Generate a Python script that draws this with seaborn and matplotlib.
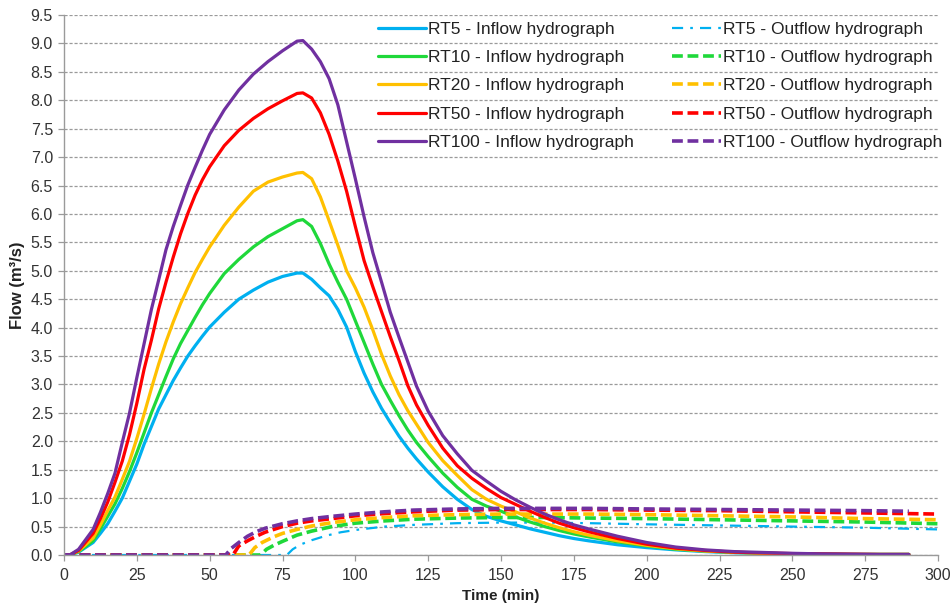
import matplotlib
matplotlib.use("Agg")
import matplotlib.pyplot as plt
import matplotlib.ticker as mticker
import seaborn as sns

# ---------------- data ----------------
series_names = ["RT5", "RT10", "RT20", "RT50", "RT100"]
colors = ["#00B0F0", "#1FD83A", "#FFC000", "#FF0000", "#7030A0"]

time_in = [0, 2, 5, 10, 12.5, 15, 17.5, 20, 22.5, 25, 27.5, 30, 32.5, 35, 37.5, 40, 42.5, 45, 47.5,
           50, 55, 60, 65, 70, 75, 80,
           82, 85, 88, 91, 94, 97, 100, 103, 106, 109, 112, 115, 118, 121,
           125, 130, 135, 140, 145, 150, 155, 160, 165, 170, 175, 180,
           190, 200, 210, 220, 230, 240, 250, 260, 270, 280, 290]

rt5_in = [0, 0, 0.05, 0.22, 0.38, 0.55, 0.77, 1.00, 1.30, 1.60, 1.95, 2.26, 2.57, 2.82, 3.07, 3.29, 3.50, 3.68, 3.85,
          4.01, 4.27, 4.50, 4.66, 4.80, 4.90, 4.96,
          4.96, 4.85, 4.70, 4.56, 4.32, 4.01, 3.58, 3.20, 2.87, 2.58, 2.33, 2.09, 1.88, 1.69,
          1.46, 1.20, 0.98, 0.80, 0.68, 0.60, 0.53, 0.46, 0.40, 0.34, 0.29, 0.25,
          0.18, 0.13, 0.09, 0.06, 0.04, 0.03, 0.02, 0.015, 0.01, 0.01, 0.01]
rt10_in = [0, 0, 0.06, 0.25, 0.46, 0.68, 0.90, 1.17, 1.47, 1.80, 2.15, 2.50, 2.82, 3.14, 3.45, 3.72, 3.95, 4.18, 4.40,
           4.60, 4.95, 5.20, 5.42, 5.60, 5.74, 5.88,
           5.90, 5.78, 5.48, 5.12, 4.80, 4.50, 4.12, 3.74, 3.36, 3.00, 2.72, 2.45, 2.20, 1.98,
           1.73, 1.44, 1.19, 0.98, 0.86, 0.77, 0.67, 0.58, 0.50, 0.43, 0.37, 0.32,
           0.23, 0.16, 0.10, 0.07, 0.045, 0.03, 0.02, 0.015, 0.01, 0.01, 0.01]
rt20_in = [0, 0, 0.07, 0.30, 0.53, 0.78, 1.02, 1.33, 1.65, 2.05, 2.48, 2.93, 3.36, 3.75, 4.10, 4.42, 4.70, 4.97, 5.20,
           5.42, 5.80, 6.12, 6.40, 6.56, 6.65, 6.72,
           6.73, 6.62, 6.30, 5.88, 5.45, 5.00, 4.70, 4.36, 3.96, 3.53, 3.15, 2.82, 2.54, 2.30,
           1.98, 1.66, 1.40, 1.15, 0.98, 0.86, 0.76, 0.65, 0.56, 0.48, 0.41, 0.35,
           0.25, 0.17, 0.11, 0.07, 0.05, 0.03, 0.02, 0.015, 0.01, 0.01, 0.01]
rt50_in = [0, 0, 0.08, 0.38, 0.64, 0.93, 1.28, 1.65, 2.12, 2.67, 3.27, 3.78, 4.33, 4.80, 5.24, 5.65, 6.01, 6.33, 6.60,
           6.83, 7.20, 7.47, 7.68, 7.85, 7.99, 8.12,
           8.13, 8.04, 7.78, 7.40, 6.93, 6.40, 5.78, 5.18, 4.72, 4.28, 3.84, 3.42, 2.98, 2.64,
           2.28, 1.88, 1.57, 1.35, 1.17, 1.01, 0.89, 0.77, 0.66, 0.56, 0.48, 0.41,
           0.29, 0.19, 0.12, 0.08, 0.05, 0.035, 0.025, 0.02, 0.015, 0.01, 0.01]
rt100_in = [0, 0, 0.10, 0.45, 0.75, 1.08, 1.44, 1.98, 2.50, 3.12, 3.72, 4.32, 4.84, 5.37, 5.78, 6.15, 6.51, 6.82, 7.12,
            7.40, 7.83, 8.18, 8.46, 8.68, 8.87, 9.04,
            9.05, 8.90, 8.68, 8.38, 7.92, 7.27, 6.62, 5.95, 5.32, 4.80, 4.27, 3.83, 3.40, 2.97,
            2.53, 2.10, 1.78, 1.49, 1.30, 1.12, 0.97, 0.84, 0.72, 0.62, 0.53, 0.46,
            0.33, 0.22, 0.14, 0.09, 0.06, 0.045, 0.03, 0.02, 0.015, 0.01, 0.01]

rt5_out_t = [0, 76.5, 78.5, 81, 85, 90, 95, 100, 110, 120, 135, 150, 165, 180, 200, 225, 250, 275, 300]
rt5_out = [0, 0, 0.10, 0.18, 0.26, 0.34, 0.40, 0.44, 0.50, 0.53, 0.56, 0.57, 0.57, 0.56, 0.54, 0.52, 0.50, 0.48, 0.45]
rt10_out_t = [0, 67.5, 69.5, 72, 75, 80, 85, 92, 100, 110, 120, 135, 150, 165, 180, 200, 225, 250, 275, 300]
rt10_out = [0, 0, 0.10, 0.17, 0.24, 0.35, 0.42, 0.50, 0.56, 0.60, 0.63, 0.65, 0.66, 0.66, 0.65, 0.64, 0.62, 0.60, 0.58, 0.55]
rt20_out_t = [0, 63.5, 65.5, 68, 72, 75, 80, 85, 92, 100, 110, 120, 135, 150, 165, 180, 200, 225, 250, 275, 300]
rt20_out = [0, 0, 0.13, 0.22, 0.32, 0.38, 0.45, 0.51, 0.57, 0.62, 0.66, 0.69, 0.71, 0.72, 0.72, 0.72, 0.71, 0.69, 0.67, 0.64, 0.62]
rt50_out_t = [0, 58, 60, 63, 66, 69, 72, 75, 80, 85, 92, 100, 110, 120, 135, 150, 165, 180, 200, 225, 250, 275, 300]
rt50_out = [0, 0, 0.16, 0.25, 0.33, 0.40, 0.45, 0.50, 0.56, 0.60, 0.64, 0.69, 0.73, 0.76, 0.79, 0.80, 0.80, 0.80, 0.79, 0.78, 0.76, 0.74, 0.72]
rt100_out_t = [0, 55.5, 57.5, 60, 63, 66, 69, 72, 75, 80, 85, 92, 100, 110, 120, 135, 150, 165, 180, 200, 225, 250, 275, 290]
rt100_out = [0, 0, 0.12, 0.22, 0.33, 0.41, 0.47, 0.51, 0.55, 0.60, 0.64, 0.68, 0.72, 0.76, 0.79, 0.81, 0.82, 0.82, 0.82, 0.81, 0.80, 0.79, 0.78, 0.77]

x_ticks = [0, 25, 50, 75, 100, 125, 150, 175, 200, 225, 250, 275, 300]
y_max = 9.5
x_label = "Time (min)"
y_label = "Flow (m³/s)"

inflows = [rt5_in, rt10_in, rt20_in, rt50_in, rt100_in]
outflows = [(rt5_out_t, rt5_out), (rt10_out_t, rt10_out), (rt20_out_t, rt20_out),
            (rt50_out_t, rt50_out), (rt100_out_t, rt100_out)]

# ---------------- style ----------------
sns.set_style("white")
plt.rcParams['font.family'] = ['Liberation Sans', 'DejaVu Sans']

W, H = 953, 606
fig = plt.figure(figsize=(W / 100, H / 100), dpi=100)
L, R, T, B = 64, 938, 15, 555
ax = fig.add_axes([L / W, 1 - B / H, (R - L) / W, (B - T) / H])

out_styles = [(0, (5, 3.2, 1.2, 3.2)), (0, (3.0, 1.3)), (0, (3.0, 1.3)), (0, (3.0, 1.3)), (0, (3.0, 1.3))]
out_widths = [1.6, 2.6, 2.6, 2.6, 2.6]

in_handles, out_handles = [], []
for i, name in enumerate(series_names):
    sns.lineplot(x=time_in, y=inflows[i], ax=ax, color=colors[i], lw=2.3,
                 label=f"{name} - Inflow hydrograph", legend=False)
    in_handles.append(ax.lines[-1])
    tt, qq = outflows[i]
    sns.lineplot(x=tt, y=qq, ax=ax, color=colors[i], lw=out_widths[i],
                 linestyle=out_styles[i], label=f"{name} - Outflow hydrograph", legend=False)
    out_handles.append(ax.lines[-1])

ax.set_xlim(0, 300)
ax.set_ylim(0, y_max)
ax.set_xticks(x_ticks)
ax.yaxis.set_major_locator(mticker.MultipleLocator(0.5))
ax.yaxis.set_major_formatter(mticker.FormatStrFormatter("%.1f"))

ax.grid(axis='y', color='#9a9a9a', linestyle=(0, (2.5, 1.5)), linewidth=0.9)
ax.grid(axis='x', visible=False)
ax.set_axisbelow(True)
for s in ['top', 'right']:
    ax.spines[s].set_visible(False)
for s in ['left', 'bottom']:
    ax.spines[s].set_color('#9a9a9a')
    ax.spines[s].set_linewidth(1.0)
ax.tick_params(axis='both', which='major', direction='out', length=4, width=0.9,
               color='#9a9a9a', labelsize=11.5, labelcolor='#333333', left=True, bottom=True)
ax.tick_params(axis='x', pad=5)
ax.tick_params(axis='y', pad=4)

ax.set_xlabel(x_label, fontsize=11, fontweight='bold', color='#222222', labelpad=5)
ax.set_ylabel(y_label, fontsize=12, fontweight='bold', color='#222222', labelpad=4)

leg = ax.legend(handles=in_handles + out_handles, ncol=2, loc='upper left',
                bbox_to_anchor=(0.359, 0.988), frameon=False, fontsize=12.5,
                handlelength=2.8, handletextpad=0.1, columnspacing=2.2,
                labelspacing=0.76, borderpad=0, borderaxespad=0)
for t in leg.get_texts():
    t.set_color('#222222')

fig.savefig("out.png", dpi=100)
